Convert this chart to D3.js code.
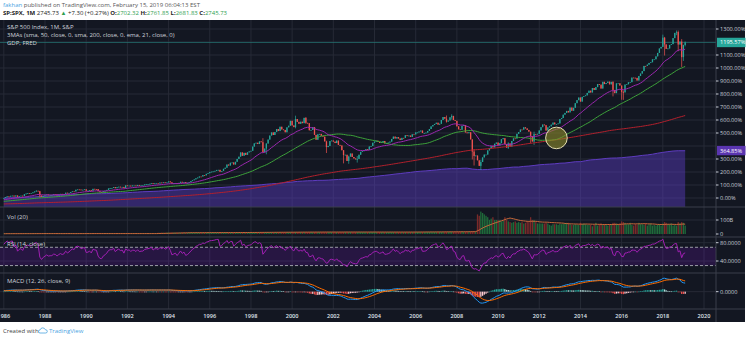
<!DOCTYPE html>
<html><head><meta charset="utf-8">
<script src="https://cdn.jsdelivr.net/npm/d3@7"></script>
<style>body{margin:0;background:#fff;}svg{display:block;font-family:"Open Sans",sans-serif;}</style>
</head><body>
<svg id="c" width="748" height="339"></svg>
<script>
// ---------- DATA ----------
// monthly closes before the visible window (1969-01 .. 1985-12), used only to warm up the indicators
const preCloses = [
103.0,98.1,101.5,103.7,103.5,97.7,91.8,95.5,93.1,97.2,93.8,92.1,
85.0,89.5,89.6,81.5,76.6,72.7,78.1,81.5,84.2,83.3,87.2,92.2,
95.9,96.8,100.3,103.9,99.6,99.7,95.6,99.0,98.3,94.2,94.0,102.1,
103.9,106.6,107.2,107.7,109.5,107.1,107.4,111.1,110.6,111.6,116.7,118.1,
116.0,111.7,111.5,107.0,105.0,104.3,108.2,104.3,108.4,108.3,96.0,97.6,
96.6,96.2,94.0,90.3,87.3,86.0,79.3,72.2,63.5,73.9,70.0,68.6,
77.0,81.6,83.4,87.3,91.2,95.2,88.8,86.9,83.9,89.0,91.2,90.2,
100.9,99.7,102.8,101.6,100.2,104.3,103.4,102.9,105.2,102.9,102.1,107.5,
102.0,99.8,98.4,98.4,96.1,100.5,98.9,97.0,96.5,92.3,94.8,95.1,
89.3,87.0,89.2,97.0,97.2,95.5,100.7,103.3,102.5,93.2,94.7,96.1,
99.9,96.3,101.6,101.8,99.1,102.9,103.8,109.3,109.3,101.8,106.2,107.9,
114.2,113.7,102.1,106.3,111.2,114.2,121.7,122.4,125.5,127.5,140.5,135.8,
129.6,131.3,136.0,132.8,132.6,131.2,130.9,122.8,116.2,121.9,126.4,122.6,
120.4,113.1,112.0,116.4,111.9,109.6,107.1,119.5,120.4,133.7,138.5,140.6,
145.3,148.1,153.0,164.4,162.4,168.1,162.6,164.4,166.1,163.6,166.4,164.9,
163.4,157.1,159.2,160.1,150.6,153.2,150.7,166.7,166.1,166.1,163.6,167.2,
179.6,181.2,180.7,179.8,189.6,191.9,190.9,188.6,182.1,189.8,202.2,211.3
];
// S&P 500 monthly closes, 1986-01 .. 2019-02
const closes = [
211.78,226.92,238.90,235.52,247.35,250.84,236.12,252.93,231.32,243.98,249.22,242.17,
274.08,284.20,291.70,288.36,290.10,304.00,318.66,329.80,321.83,251.79,230.30,247.08,
257.07,267.82,258.89,261.33,262.16,273.50,272.02,261.52,271.91,278.97,273.70,277.72,
297.47,288.86,294.87,309.64,320.52,317.98,346.08,351.45,349.15,340.36,345.99,353.40,
329.08,331.89,339.94,330.80,361.23,358.02,356.15,322.56,306.05,304.00,322.22,330.22,
343.93,367.07,375.22,375.34,389.83,371.16,387.81,395.43,387.86,392.46,375.22,417.09,
408.79,412.70,403.69,414.95,415.35,408.14,424.21,414.03,417.80,418.68,431.35,435.71,
438.78,443.38,451.67,440.19,450.19,450.53,448.13,463.56,458.93,467.83,461.79,466.45,
481.61,467.14,445.77,450.91,456.50,444.27,458.26,475.49,462.69,472.35,453.69,459.27,
470.42,487.39,500.71,514.71,533.40,544.75,562.06,561.88,584.41,581.50,605.37,615.93,
636.02,640.43,645.50,654.17,669.12,670.63,639.95,651.99,687.31,705.27,757.02,740.74,
786.16,790.82,757.12,801.34,848.28,885.14,954.29,899.47,947.28,914.62,955.40,970.43,
980.28,1049.34,1101.75,1111.75,1090.82,1133.84,1120.67,957.28,1017.01,1098.67,1163.63,1229.23,
1279.64,1238.33,1286.37,1335.18,1301.84,1372.71,1328.72,1320.41,1282.71,1362.93,1388.91,1469.25,
1394.46,1366.42,1498.58,1452.43,1420.60,1454.60,1430.83,1517.68,1436.51,1429.40,1314.95,1320.28,
1366.01,1239.94,1160.33,1249.46,1255.82,1224.38,1211.23,1133.58,1040.94,1059.78,1139.45,1148.08,
1130.20,1106.73,1147.39,1076.92,1067.14,989.82,911.62,916.07,815.28,885.76,936.31,879.82,
855.70,841.15,848.18,916.92,963.59,974.50,990.31,1008.01,995.97,1050.71,1058.20,1111.92,
1131.13,1144.94,1126.21,1107.30,1120.68,1140.84,1101.72,1104.24,1114.58,1130.20,1173.82,1211.92,
1181.27,1203.60,1180.59,1156.85,1191.50,1191.33,1234.18,1220.33,1228.81,1207.01,1249.48,1248.29,
1280.08,1280.66,1294.87,1310.61,1270.09,1270.20,1276.66,1303.82,1335.85,1377.94,1400.63,1418.30,
1438.24,1406.82,1420.86,1482.37,1530.62,1503.35,1455.27,1473.99,1526.75,1549.38,1481.14,1468.36,
1378.55,1330.63,1322.70,1385.59,1400.38,1280.00,1267.38,1282.83,1166.36,968.75,896.24,903.25,
825.88,735.09,797.87,872.81,919.14,919.32,987.48,1020.62,1057.08,1036.19,1095.63,1115.10,
1073.87,1104.49,1169.43,1186.69,1089.41,1030.71,1101.60,1049.33,1141.20,1183.26,1180.55,1257.64,
1286.12,1327.22,1325.83,1363.61,1345.20,1320.64,1292.28,1218.89,1131.42,1253.30,1246.96,1257.60,
1312.41,1365.68,1408.47,1397.91,1310.33,1362.16,1379.32,1406.58,1440.67,1412.16,1416.18,1426.19,
1498.11,1514.68,1569.19,1597.57,1630.74,1606.28,1685.73,1632.97,1681.55,1756.54,1805.81,1848.36,
1782.59,1859.45,1872.34,1883.95,1923.57,1960.23,1930.67,2003.37,1972.29,2018.05,2067.56,2058.90,
1994.99,2104.50,2067.89,2085.51,2107.39,2063.11,2103.84,1972.18,1920.03,2079.36,2080.41,2043.94,
1940.24,1932.23,2059.74,2065.30,2096.95,2098.86,2173.60,2170.95,2168.27,2126.15,2198.81,2238.83,
2278.87,2363.64,2362.72,2384.20,2411.80,2423.41,2470.30,2471.65,2519.36,2575.26,2647.58,2673.61,
2823.81,2713.83,2640.87,2648.05,2705.27,2718.37,2816.29,2901.52,2913.98,2711.74,2760.17,2506.85,
2704.10,2745.73
];
// notable monthly extremes (month, high, low)
const wicks = [
["1987-08",337.9,316.0],["1987-10",328.0,216.5],["1998-08",1186.8,957.0],["1998-10",1103.8,923.3],
["2000-03",1552.9,1346.6],["2000-09",1530.1,1419.4],["2001-09",1145.0,944.8],["2002-07",992.0,775.7],
["2002-10",900.1,768.6],["2003-03",895.9,788.9],["2007-07",1555.9,1440.0],["2007-10",1576.1,1489.6],
["2008-10",1166.4,839.8],["2008-11",1007.5,741.0],["2009-03",832.9,666.8],["2010-07",1120.0,1010.9],
["2011-08",1292.7,1101.5],["2011-10",1292.7,1074.8],["2015-08",2113.0,1867.0],["2016-01",2043.9,1812.3],
["2016-02",1962.9,1810.1],["2018-01",2872.9,2682.4],["2018-02",2835.9,2532.7],["2018-09",2940.9,2864.1],
["2018-10",2939.9,2603.5],["2018-12",2800.2,2346.6],["2019-01",2708.9,2444.0],["2019-02",2761.85,2681.83]
];
// US nominal GDP (FRED, bn $), quarterly 1986Q1 .. 2018Q4
const gdp = [
4507.9,4545.3,4607.7,4657.6, 4722.2,4806.2,4884.6,5008.0, 5073.4,5190.0,5282.8,5399.5,
5511.3,5612.5,5695.4,5747.2, 5872.7,5960.0,6015.1,6004.7, 6035.2,6126.9,6205.9,6264.5,
6363.1,6470.8,6566.6,6680.8, 6729.5,6808.9,6882.1,7013.7, 7116,7247,7331,7456,
7523,7581,7684,7769, 7869,8033,8112,8248, 8362,8519,8637,8738,
8863,8953,9098,9283, 9412,9527,9712,9926, 10031,10278,10358,10472,
10508,10638,10639,10701, 10835,10934,11037,11103, 11230,11370,11625,11817,
11989,12181,12368,12562, 12814,12975,13206,13382, 13649,13799,13909,14067,
14234,14423,14569,14685, 14668,14813,14843,14549, 14383,14340,14384,14566,
14681,14888,15057,15231, 15238,15460,15587,15785, 16019,16152,16257,16358,
16570,16637,16848,17083, 17103,17425,17719,17839, 18007,18223,18347,18379,
18470,18656,18821,19032, 19281,19438,19692,20038, 20329,20580,20798,20897
];
// monthly volume (bn), one row per year, 1986 .. 2019-02
const volumes = [
2,2,3,2,2,3,2,2,3,3,2,3,
3,3,3,3,2,3,3,3,3,4,3,3,
2,3,3,2,2,3,2,2,2,3,2,3,
3,3,3,3,3,3,3,3,3,3,3,3,
3,3,3,3,3,3,3,3,3,3,3,3,
3,3,3,3,3,3,3,3,3,3,3,3,
3,3,3,3,3,3,3,3,3,3,3,3,
3,3,3,3,3,3,9,9,10,9,9,10,
10,9,10,9,9,9,9,9,10,9,9,9,
10,10,10,10,10,10,10,10,10,10,10,10,
10,10,11,10,10,10,11,10,10,11,10,10,
11,11,11,11,11,11,11,12,11,12,11,11,
12,12,12,12,12,12,12,13,12,13,12,12,
13,13,13,13,13,13,13,13,13,13,13,13,
14,14,14,14,14,14,14,14,14,14,14,14,
14,14,14,14,14,14,14,14,14,14,14,14,
14,14,14,14,14,14,15,15,15,14,14,14,
14,14,14,14,14,14,14,14,14,14,14,14,
14,14,14,14,14,14,14,14,14,14,14,14,
14,14,14,14,14,14,14,14,14,14,14,14,
15,15,15,15,15,15,15,16,15,16,15,15,
15,15,16,15,15,16,16,16,16,17,16,16,
16,16,17,17,16,17,17,17,18,19,18,17,
140,130,160,150,140,130,120,100,110,120,100,100,
100,100,90,95,120,100,90,85,80,85,90,80,
85,80,85,75,80,90,85,120,100,100,85,75,
75,75,75,75,80,75,65,60,70,70,70,65,
75,70,75,75,80,80,70,65,65,70,65,65,
80,70,75,70,65,65,65,55,65,80,60,70,
75,65,70,65,60,70,65,80,80,75,70,75,
90,85,80,70,70,80,65,60,70,65,80,70,
70,65,75,60,70,75,60,65,60,65,70,60,
75,85,80,70,70,75,60,65,60,85,75,85,
80,60
];
const priceTicks = [0,100,200,300,400,500,600,700,800,900,1000,1100,1200,1300];
const yearTicks = [1986,1988,1990,1992,1994,1996,1998,2000,2002,2004,2006,2008,2010,2012,2014,2016,2018,2020];
const volTicks = [[0,"0"],[100,"100B"]];
const rsiTicks = [[80,"80.0000"],[40,"40.0000"]];
const macdTicks = [[0,"0.0000"]];
const lastPriceLabel = "1195.57%";
const gdpLastPct = 364.85;
const gdpLastLabel = "364.85%";
const highlight = {month:"2012-11", pct:462};
const legendMain = ["S&P 500 Index, 1M, S&P","3MAs (sma, 50, close, 0, sma, 200, close, 0, ema, 21, close, 0)","GDP, FRED"];

// ---------- INDICATORS ----------
const all = preCloses.concat(closes);
const off = preCloses.length;
function sma(a,n){return a.map((v,i)=>i<n-1?null:d3.mean(a.slice(i-n+1,i+1)));}
function ema(a,n){const k=2/(n+1);let p=null;return a.map(v=>{if(v==null)return null;p=p==null?v:k*v+(1-k)*p;return p;});}
function rsiCalc(a,n){let ag=0,al=0;const out=[null];
  for(let i=1;i<a.length;i++){const ch=a[i]-a[i-1],g=Math.max(ch,0),l=Math.max(-ch,0);
    if(i<=n){ag+=g/n;al+=l/n;out.push(i==n?100-100/(1+ag/al):null);}
    else{ag=(ag*(n-1)+g)/n;al=(al*(n-1)+l)/n;out.push(al==0?100:100-100/(1+ag/al));}}
  return out;}
const s50=sma(all,50), s200=sma(all,200), e21=ema(all,21);
const e12=ema(all,12), e26=ema(all,26);
const macdAll=e12.map((v,i)=>v-e26[i]);
const sigAll=ema(macdAll,9);
const rsiAll=rsiCalc(all,14);
const volMA=volumes.map((v,i)=>d3.mean(volumes.slice(Math.max(0,i-19),i+1)));

const base = closes[0];
const pct = v => (v/base-1)*100;
const wickMap = new Map(wicks.map(w=>[w[0],w]));
const key = d => d.getFullYear()+"-"+String(d.getMonth()+1).padStart(2,"0");
const bars = closes.map((c,i)=>{const date=new Date(1986,i,1);const o=all[off+i-1];const w=wickMap.get(key(date));
  return {i,date,o,c,h:w?Math.max(w[1],o,c):Math.max(o,c),l:w?Math.min(w[2],o,c):Math.min(o,c),
    s50:s50[off+i],s200:s200[off+i],e21:e21[off+i],rsi:rsiAll[off+i],macd:macdAll[off+i],sig:sigAll[off+i],
    hist:macdAll[off+i]-sigAll[off+i],histPrev:macdAll[off+i-1]-sigAll[off+i-1],vol:volumes[i],volMA:volMA[i]};});

// ---------- LAYOUT ----------
const svg=d3.select("#c");
const PR=716, RIGHT=745;
const x=d3.scaleTime().domain([new Date(1988,0,1),new Date(2020,0,1)]).range([45,704]);
const y=d3.scaleLinear().domain([0,1300]).range([198,29]);
const yv=d3.scaleLinear().domain([0,100]).range([234,220]);
const yr=d3.scaleLinear().domain([40,80]).range([261,242.7]);
const ym=d3.scaleLinear().domain([-210,240]).range([308,273]);
const panes=[[20,207],[207,237],[237,273],[273,309]];
const grid="#262a36", sep="#3b3f4b", txt="#c8ccd6";

svg.append("rect").attr("x",0).attr("y",20).attr("width",RIGHT).attr("height",302).attr("fill","#131722");
const defs=svg.append("defs");
panes.forEach((p,k)=>defs.append("clipPath").attr("id","cp"+k).append("rect").attr("x",0).attr("y",p[0]).attr("width",PR).attr("height",p[1]-p[0]));
defs.append("clipPath").attr("id","cpAll").append("rect").attr("x",0).attr("y",20).attr("width",RIGHT).attr("height",302);

// grid
const g0=svg.append("g").attr("clip-path","url(#cpAll)");
g0.selectAll(".vg").data(yearTicks).join("line").attr("x1",d=>x(new Date(d,0,1))).attr("x2",d=>x(new Date(d,0,1)))
  .attr("y1",20).attr("y2",309).attr("stroke",grid).attr("stroke-width",1);
g0.selectAll(".hg").data(priceTicks).join("line").attr("x1",0).attr("x2",PR).attr("y1",d=>y(d)).attr("y2",d=>y(d)).attr("stroke",grid);
g0.append("line").attr("x1",0).attr("x2",PR).attr("y1",yv(100)).attr("y2",yv(100)).attr("stroke",grid);
rsiTicks.forEach(t=>g0.append("line").attr("x1",0).attr("x2",PR).attr("y1",yr(t[0])).attr("y2",yr(t[0])).attr("stroke",grid));
g0.append("line").attr("x1",0).attr("x2",PR).attr("y1",ym(0)).attr("y2",ym(0)).attr("stroke",grid);

// ---- main pane
const gm=svg.append("g").attr("clip-path","url(#cp0)");
const gdpPts=gdp.map((v,q)=>({date:new Date(1986,q*3,1),p:(v/gdp[0]-1)*100}));
gdpPts.push({date:bars[bars.length-1].date,p:gdpPts[gdpPts.length-1].p});
gm.append("path").datum(gdpPts).attr("d",d3.area().x(d=>x(d.date)).y0(207).y1(d=>y(d.p)))
  .attr("fill","#5b3cc4").attr("fill-opacity",0.45);
gm.append("path").datum(gdpPts).attr("d",d3.line().x(d=>x(d.date)).y(d=>y(d.p)))
  .attr("fill","none").attr("stroke","#5e3cc0").attr("stroke-width",1);
const lpY=y(pct(closes[closes.length-1]));
gm.append("line").attr("x1",0).attr("x2",PR).attr("y1",lpY).attr("y2",lpY).attr("stroke","#26a69a").attr("stroke-opacity",0.45);
const bw=1.3, up="#26a69a", dn="#ef5350";
gm.selectAll(".wk").data(bars).join("line").attr("x1",d=>x(d.date)).attr("x2",d=>x(d.date))
  .attr("y1",d=>y(pct(d.h))).attr("y2",d=>y(pct(d.l))).attr("stroke",d=>d.c>=d.o?up:dn).attr("stroke-width",0.7);
gm.selectAll(".cd").data(bars).join("rect").attr("x",d=>x(d.date)-bw/2).attr("width",bw)
  .attr("y",d=>y(pct(Math.max(d.o,d.c)))).attr("height",d=>Math.max(0.8,Math.abs(y(pct(d.o))-y(pct(d.c)))))
  .attr("fill",d=>d.c>=d.o?up:dn);
const maLine=f=>d3.line().defined(d=>d[f]!=null).x(d=>x(d.date)).y(d=>y(pct(d[f])));
[["s200","#b3202c"],["s50","#3da23a"],["e21","#9c27b0"]].forEach(([f,c])=>
  gm.append("path").datum(bars).attr("d",maLine(f)).attr("fill","none").attr("stroke",c).attr("stroke-width",1));
const hm=highlight.month.split("-");
gm.append("circle").attr("cx",x(new Date(+hm[0],+hm[1]-1,1))).attr("cy",y(highlight.pct)).attr("r",10.8)
  .attr("fill","#8c8a2a").attr("fill-opacity",0.6).attr("stroke","#e3ddb0").attr("stroke-width",1);

// ---- volume pane
const gv=svg.append("g").attr("clip-path","url(#cp1)");
gv.selectAll("rect").data(bars).join("rect").attr("x",d=>x(d.date)-bw/2).attr("width",bw)
  .attr("y",d=>yv(d.vol)).attr("height",d=>yv(0)-yv(d.vol)).attr("fill",d=>d.c>=d.o?"#1f6b3a":"#7a2a2a");
gv.append("path").datum(bars).attr("d",d3.line().x(d=>x(d.date)).y(d=>yv(d.volMA))).attr("fill","none").attr("stroke","#c8693a").attr("stroke-width",1);

// ---- RSI pane
const gr=svg.append("g").attr("clip-path","url(#cp2)");
gr.append("rect").attr("x",0).attr("width",PR).attr("y",yr(70)).attr("height",yr(30)-yr(70)).attr("fill","#9915ff").attr("fill-opacity",0.15);
[70,30].forEach(v=>gr.append("line").attr("x1",0).attr("x2",PR).attr("y1",yr(v)).attr("y2",yr(v)).attr("stroke","#9a9ca6").attr("stroke-dasharray","3,2"));
gr.append("path").datum(bars).attr("d",d3.line().defined(d=>d.rsi!=null).x(d=>x(d.date)).y(d=>yr(d.rsi))).attr("fill","none").attr("stroke","#a11fb3").attr("stroke-width",1);

// ---- MACD pane
const gc=svg.append("g").attr("clip-path","url(#cp3)");
const hcol=d=>d.hist>=0?(d.hist>=d.histPrev?"#26a69a":"#b2dfdb"):(d.hist<d.histPrev?"#ef5350":"#ffcdd2");
gc.selectAll("rect").data(bars).join("rect").attr("x",d=>x(d.date)-bw/2).attr("width",bw)
  .attr("y",d=>Math.min(ym(d.hist),ym(0))).attr("height",d=>Math.max(0.6,Math.abs(ym(d.hist)-ym(0)))).attr("fill",hcol);
gc.append("path").datum(bars).attr("d",d3.line().x(d=>x(d.date)).y(d=>ym(d.macd))).attr("fill","none").attr("stroke","#2196f3").attr("stroke-width",1);
gc.append("path").datum(bars).attr("d",d3.line().x(d=>x(d.date)).y(d=>ym(d.sig))).attr("fill","none").attr("stroke","#ff6d00").attr("stroke-width",1);

// separators
[207,237,273,309].forEach(v=>svg.append("line").attr("x1",0).attr("x2",RIGHT).attr("y1",v).attr("y2",v).attr("stroke",sep));
svg.append("line").attr("x1",PR).attr("x2",PR).attr("y1",20).attr("y2",322).attr("stroke",sep);

// right axis labels (labels covered by a value box are hidden, as in the reference)
const gY=y(gdpLastPct);
const boxYs=[lpY,gY];
const ax=svg.append("g").attr("font-size",5.6).attr("fill",txt);
const tick=(yy,label)=>{ax.append("line").attr("x1",PR).attr("x2",PR+2.5).attr("y1",yy).attr("y2",yy).attr("stroke",txt);
  ax.append("text").attr("x",720).attr("y",yy).attr("dy","0.35em").text(label);};
priceTicks.forEach(t=>{if(boxYs.every(b=>Math.abs(b-y(t))>6.5)) tick(y(t),t.toFixed(2)+"%");});
volTicks.forEach(t=>tick(yv(t[0]),t[1]));
rsiTicks.forEach(t=>tick(yr(t[0]),t[1]));
macdTicks.forEach(t=>tick(ym(t[0]),t[1]));
ax.append("rect").attr("x",PR+1).attr("y",lpY-4.7).attr("width",28.5).attr("height",9.4).attr("fill","#26a69a");
ax.append("text").attr("x",720).attr("y",lpY).attr("dy","0.35em").attr("fill","#fff").text(lastPriceLabel);
ax.append("rect").attr("x",PR+1).attr("y",gY-4.7).attr("width",28.5).attr("height",9.4).attr("fill","#5a35b0");
ax.append("text").attr("x",720).attr("y",gY).attr("dy","0.35em").attr("fill","#fff").text(gdpLastLabel);

// time axis
const ta=svg.append("g").attr("clip-path","url(#cpAll)").attr("font-size",5.6).attr("font-weight",600).attr("fill","#dfe2ea");
yearTicks.forEach(t=>ta.append("text").attr("x",x(new Date(t,0,1))).attr("y",317.5).attr("text-anchor","middle").text(t));

// legends
const lg=svg.append("g").attr("font-size",6).attr("fill","#d1d4dc");
legendMain.forEach((s,k)=>lg.append("text").attr("x",7).attr("y",29.3+k*8).text(s));
lg.append("text").attr("x",7).attr("y",219).text("Vol (20)");
lg.append("text").attr("x",7).attr("y",245.5).text("RSI (14, close)");
lg.append("text").attr("x",7).attr("y",283).text("MACD (12, 26, close, 9)");

// header
const h1=svg.append("text").attr("x",3).attr("y",7.2).attr("font-size",6).attr("fill","#555");
h1.append("tspan").attr("fill","#4aa3df").text("fakhan");
h1.append("tspan").text(" published on TradingView.com, February 15, 2019 06:04:13 EST");
const h2=svg.append("text").attr("x",3).attr("y",15.2).attr("font-size",6).attr("fill","#222");
const green="#2e9e4f";
[["SP:SPX, 1M",null,700],[" 2745.73 ",null,400],["▲",green,400],[" +7.30 (+0.27%) ",null,400],["O:",null,700],["2702.32",green,400],
 [" H:",null,700],["2761.85",green,400],[" L:",null,700],["2681.83",green,400],[" C:",null,700],["2745.73",green,400]]
 .forEach(([s,c,w])=>{const t=h2.append("tspan").attr("font-weight",w).text(s);if(c)t.attr("fill",c);});

// footer
const ft=svg.append("g");
ft.append("text").attr("x",3).attr("y",333).attr("font-size",6).attr("fill","#444").text("Created with");
ft.append("path").attr("d","M40,333 q-1.5,0 -1.5,-1.6 q0,-1.5 1.6,-1.5 q0.6,-2 2.6,-2 q2,0 2.6,1.8 q2,0 2,1.7 q0,1.6 -1.7,1.6 Z")
  .attr("fill","none").attr("stroke","#4aa3df").attr("stroke-width",0.8);
ft.append("text").attr("x",49).attr("y",333).attr("font-size",6).attr("fill","#4aa3df").text("TradingView");
</script>
</body></html>
